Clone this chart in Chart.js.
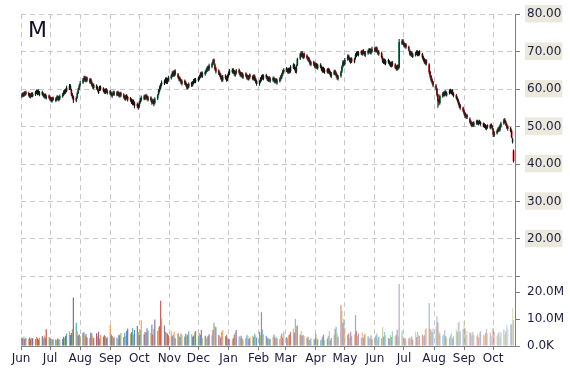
<!DOCTYPE html>
<html>
<head>
<meta charset="utf-8">
<script src="https://cdn.jsdelivr.net/npm/chart.js@4.4.0/dist/chart.umd.min.js"></script>
<style>
  html, body { margin: 0; padding: 0; background: #fff; }
  canvas { display: block; }
</style>
</head>
<body>
<canvas id="chart" width="570" height="370"></canvas>
<script>
// daily candles, one row per trading week, starting Mon 2 Jun 2014
var opens = [
  [58.0,58.9,58.3,58.5,59.3],[59.0,58.7,57.8,58.9,58.1],[58.5,59.6,58.7,59.6,58.4],[59.3,58.8,57.8,58.7,57.5],
  [58.3,57.9,57.7,56.7,57.8],[56.8,57.2,58.1,57.0,57.5],[58.0,58.5,59.7,59.1,59.6],[60.1,60.9,59.7,58.6,58.0],
  [56.9,57.8,59.1,60.0,61.1],[61.8,62.4,63.3,62.2,63.1],[61.9,62.7,61.9,61.3,60.3],[61.0,60.5,59.0,59.8,60.7],
  [60.2,59.8,59.0,60.0,58.9],[59.5,59.1,58.0,58.6,59.3],[58.4,59.3,58.9,58.1,59.0],[58.6,58.2,57.3,58.4,57.9],
  [57.6,57.2,56.0,56.9,56.4],[56.0,55.8,55.4,56.5,57.0],[57.4,58.3,57.6,58.2,57.0],[57.8,57.1,56.4,57.0,56.3],
  [57.5,58.7,59.6,60.2,61.3],[61.5,62.0,62.8,61.8,62.4],[62.9,63.6,64.6,63.6,64.9],[64.0,63.3,63.0,62.5,61.4],
  [62.3,61.8,61.4,60.2,60.7],[61.7,61.0,61.6,62.6,61.9],[62.3,62.8,63.3,64.4,63.4],[64.0,64.5,65.0,66.0,65.3],
  [66.0,66.8,67.9,66.6,65.6],[65.0,64.4,63.9,63.3,62.3],[63.7,63.2,62.6,63.5,64.2],[64.6,65.3,64.8,63.7,64.3],
  [65.2,64.6,63.5,64.3,63.1],[64.2,63.8,63.5,62.6,63.9],[63.4,62.7,63.6,62.8,62.2],[61.3,62.0,62.4,63.7,62.8],
  [63.8,63.3,62.3,63.2,62.1],[62.4,63.0,61.8,62.7,61.6],[62.1,62.7,63.2,64.0,64.6],[65.6,65.3,64.5,65.5,64.8],
  [65.7,66.4,65.6,64.6,66.5],[68.2,69.0,69.8,68.4,69.5],[69.0,68.5,68.3,67.6,66.5],[67.3,66.8,65.9,66.7,65.6],
  [66.6,66.0,64.8,65.7,64.5],[65.3,64.5,65.2,64.6,63.4],[64.0,64.9,64.4,63.8,62.7],[63.5,64.7,66.1,67.4,66.7],
  [68.0,68.9,68.3,67.2,68.2],[67.3,68.3,69.0,69.9,69.1],[70.1,69.3,70.4,69.9,69.0],[69.6,70.0,70.7,69.6,70.1],
  [71.0,70.2,71.1,70.3,69.3],[69.6,68.4,67.1,67.9,66.8],[67.8,67.4,67.0,66.1,67.2],[66.6,66.1,65.3,66.3,65.8],
  [72.1,73.0,72.4,71.3,72.0],[71.3,70.3,69.1,69.8,68.6],[69.0,69.5,70.1,69.1,70.1],[69.4,68.6,68.0,66.9,67.7],
  [66.6,64.6,63.5,62.6,61.9],[61.0,60.1,58.6,57.0,56.3],[58.1,59.1,58.4,59.4,58.3],[58.9,59.8,58.9,59.7,58.9],
  [58.4,57.7,57.1,56.3,55.7],[55.0,54.3,53.6,52.5,53.1],[52.1,51.4,50.1,51.0,50.2],[50.8,51.5,50.6,51.5,51.1],
  [50.8,49.9,50.4,49.4,50.4],[49.6,50.6,50.2,49.3,47.6],[48.2,48.8,49.7,49.1,50.1],[50.9,51.9,51.3,50.6,50.0],
  [49.6,48.9,46.0,43.6]
];
var highs = [
  [59.0,59.2,59.3,59.5,59.6],[59.3,59.0,58.9,59.2,59.2],[59.6,59.9,59.9,60.0,59.5],[59.6,59.1,58.8,58.9,58.5],
  [58.6,58.1,57.9,57.8,58.0],[57.8,58.3,58.4,58.2,58.6],[59.0,59.7,60.0,60.2,60.9],[61.4,61.3,60.1,59.0,58.3],
  [58.0,59.3,60.3,61.3,62.2],[63.0,63.6,63.6,63.3,63.4],[62.9,63.0,62.3,61.6,61.5],[61.3,60.8,60.0,60.9,61.0],
  [60.5,60.1,60.2,60.3,59.9],[59.8,59.4,59.0,59.6,59.6],[59.5,59.6,59.2,59.3,59.3],[58.9,58.4,58.5,58.7,58.2],
  [57.9,57.5,57.2,57.2,56.7],[56.4,56.1,56.8,57.6,58.3],[58.5,58.6,58.8,58.5,58.2],[58.1,57.4,57.5,57.3,57.8],
  [58.7,60.0,60.9,61.6,62.3],[62.6,63.1,63.2,63.0,63.6],[64.0,64.8,65.0,65.1,65.3],[64.3,63.6,63.3,62.8,62.6],
  [62.6,62.1,61.6,61.4,61.8],[62.0,62.2,62.7,62.9,63.0],[63.4,63.8,64.5,64.7,64.7],[65.0,65.5,66.1,66.3,66.8],
  [67.1,68.0,68.2,66.9,66.0],[65.3,64.7,64.2,63.6,63.8],[64.0,63.5,63.9,64.7,65.4],[65.6,65.6,65.1,64.9,65.4],
  [65.5,64.9,64.6,64.6,64.2],[64.5,64.1,63.8,63.8,64.2],[63.7,63.9,63.9,63.1,62.5],[62.4,63.2,63.7,64.0,64.0],
  [64.1,63.6,63.4,63.5,63.2],[63.4,63.3,62.9,63.0,62.8],[63.2,63.8,64.4,65.2,65.6],[65.9,65.6,65.7,65.8,66.4],
  [66.9,66.8,65.9,66.6,68.4],[69.8,70.1,70.2,69.6,69.8],[69.3,68.8,68.6,67.9,67.6],[67.6,67.1,67.1,67.0,66.8],
  [66.9,66.3,66.0,66.0,65.6],[65.6,65.7,65.5,64.9,64.6],[65.2,65.2,64.7,64.1,63.8],[64.9,66.4,67.7,67.7,68.3],
  [69.3,69.2,68.6,68.4,68.5],[68.4,69.6,70.0,70.2,70.2],[70.4,70.4,70.7,70.2,70.2],[70.6,71.0,71.0,70.8,71.3],
  [71.3,71.3,71.4,70.6,70.4],[69.9,68.8,68.2,68.2,67.9],[68.1,67.7,67.3,67.4,67.5],[66.9,66.4,66.6,66.6,73.4],
  [73.3,73.4,72.7,72.3,72.3],[71.6,70.6,70.2,70.1,69.7],[70.0,70.4,70.4,70.2,70.4],[69.7,68.9,68.3,68.0,68.0],
  [66.9,64.9,63.8,62.9,62.2],[61.4,60.4,58.8,57.4,58.6],[59.2,59.4,59.6,59.7,59.4],[60.0,60.1,59.9,60.0,59.2],
  [58.7,58.0,57.4,56.6,56.0],[55.3,54.6,53.9,53.4,53.4],[52.4,51.7,51.2,51.3,51.4],[51.8,51.8,51.6,51.8,51.4],
  [51.1,50.9,50.7,50.3,50.6],[50.7,50.9,50.4,49.6,48.8],[49.2,49.8,50.0,50.6,51.3],[52.1,52.3,51.6,50.9,50.3],
  [49.9,49.2,47.1,43.9]
];
var lows = [
  [57.7,57.9,57.9,58.2,58.3],[58.0,57.6,57.5,57.9,57.8],[58.2,58.7,58.4,58.5,58.1],[58.3,57.8,57.5,57.5,57.2],
  [57.3,56.8,56.5,56.4,56.8],[56.5,56.9,57.0,56.7,57.1],[57.7,58.2,58.6,58.8,59.2],[59.8,59.7,58.2,57.4,56.3],
  [56.5,57.4,58.7,59.7,60.7],[61.4,62.0,62.0,61.8,61.9],[61.5,61.4,60.7,60.1,59.9],[59.9,59.4,58.7,59.5,59.6],
  [59.2,58.8,58.7,59.0,58.6],[58.4,58.1,57.7,58.3,58.2],[58.1,58.2,57.8,57.7,57.9],[57.5,57.0,56.9,57.2,56.7],
  [56.6,56.0,55.7,55.7,54.9],[54.9,54.5,55.0,56.1,56.7],[57.0,57.1,57.2,57.0,56.7],[56.6,55.8,56.0,55.4,55.9],
  [57.1,58.3,59.2,59.9,60.8],[61.1,61.6,61.4,61.4,62.0],[62.6,63.2,63.3,63.3,63.6],[62.8,62.2,61.9,61.3,61.0],
  [61.1,60.7,60.0,59.9,60.3],[60.6,60.7,61.3,61.6,61.6],[62.0,62.4,62.9,63.2,63.0],[63.6,64.1,64.6,64.8,64.9],
  [65.6,66.4,66.5,65.0,64.2],[63.8,63.3,62.6,62.0,62.0],[62.6,62.0,62.2,63.1,63.8],[64.2,64.1,63.6,63.3,63.9],
  [64.0,63.4,63.2,63.0,62.7],[63.2,62.6,62.4,62.3,62.8],[62.4,62.3,62.2,61.6,60.9],[60.9,61.7,62.1,62.6,62.4],
  [62.8,62.2,61.9,62.0,61.7],[62.0,61.8,61.5,61.5,61.2],[61.8,62.3,62.8,63.6,64.2],[64.6,64.2,64.1,64.2,64.4],
  [65.4,65.1,64.3,64.2,66.2],[67.8,68.6,68.4,68.0,68.2],[67.9,67.4,67.1,66.4,66.1],[66.2,65.6,65.5,65.4,65.2],
  [65.6,64.8,64.4,64.4,64.1],[64.2,64.1,64.0,63.3,63.0],[63.7,63.8,63.2,62.5,62.3],[63.1,64.3,65.7,66.2,66.3],
  [67.6,67.8,67.1,66.8,67.0],[66.9,67.9,68.6,68.9,68.7],[69.1,68.9,69.3,68.9,68.6],[69.2,69.6,69.4,69.2,69.7],
  [69.9,69.8,69.8,69.2,68.9],[68.2,67.0,66.7,66.6,66.4],[66.8,66.3,65.9,65.8,66.0],[65.4,65.0,64.9,65.1,65.5],
  [71.8,71.8,71.2,70.9,70.8],[70.1,69.0,68.8,68.6,68.3],[68.7,69.1,68.8,68.8,69.0],[68.1,67.4,66.8,66.5,66.3],
  [64.0,62.9,62.0,61.3,60.5],[59.7,58.0,55.0,55.6,55.9],[57.7,58.0,58.0,58.3,58.0],[58.6,58.8,58.6,58.4,57.8],
  [57.2,56.6,55.8,54.9,54.5],[53.8,53.0,52.3,52.1,52.0],[50.8,50.2,49.8,50.0,49.9],[50.5,50.5,50.3,50.6,50.2],
  [49.8,49.6,49.2,49.0,49.4],[49.3,49.7,49.1,47.2,47.2],[47.9,48.4,48.6,48.7,49.7],[50.5,50.8,50.2,49.4,48.9],
  [48.5,46.9,45.5,40.4]
];
var closes = [
  [58.6,58.2,58.9,59.1,58.7],[58.4,58.0,58.5,58.3,58.8],[59.2,59.0,59.4,58.9,59.1],[58.6,58.2,58.5,57.9,58.1],
  [57.6,57.2,57.0,57.4,57.1],[57.5,57.9,57.3,57.8,58.2],[58.6,59.3,59.0,59.8,60.4],[60.8,60.1,58.6,57.8,57.0],
  [57.6,58.9,59.8,60.9,61.6],[62.6,63.0,62.4,62.9,62.3],[62.5,61.8,61.1,60.6,61.1],[60.3,59.8,59.6,60.5,60.0],
  [59.6,59.2,59.8,59.3,59.5],[58.8,58.5,58.7,59.2,58.6],[59.1,58.6,58.2,58.9,58.3],[57.9,57.4,58.1,57.6,57.2],
  [57.0,56.4,56.8,56.1,55.5],[55.4,55.0,56.4,57.2,57.8],[58.0,57.5,58.3,57.4,57.8],[57.0,56.3,57.1,56.0,57.4],
  [58.3,59.6,60.4,61.2,61.8],[62.1,62.6,61.8,62.7,63.1],[63.6,64.3,63.8,64.6,64.0],[63.2,62.6,62.3,61.8,62.2],
  [61.5,61.1,60.5,61.0,61.4],[61.1,61.8,62.3,62.0,62.6],[63.0,63.4,64.1,63.6,64.3],[64.6,65.1,65.7,65.2,66.3],
  [66.7,67.6,66.9,65.4,64.7],[64.2,63.7,63.0,62.6,63.4],[63.0,62.4,63.5,64.3,65.0],[65.2,64.5,64.0,64.6,65.0],
  [64.4,63.8,64.2,63.4,63.8],[63.6,63.0,62.8,63.4,63.2],[62.8,63.5,62.6,62.0,61.4],[62.0,62.8,63.2,63.0,63.6],
  [63.2,62.6,63.0,62.4,62.8],[63.0,62.2,62.5,61.9,62.4],[62.8,63.4,64.0,64.8,65.2],[65.0,64.6,65.3,64.6,66.0],
  [66.5,65.5,64.8,66.2,68.0],[69.3,69.6,68.8,69.2,68.6],[68.3,67.8,67.5,66.8,67.2],[66.6,66.0,66.8,65.8,66.4],
  [66.0,65.2,65.6,64.8,65.2],[64.6,65.3,64.4,63.8,64.2],[64.8,64.2,63.6,63.0,63.4],[64.5,66.0,67.2,66.6,67.8],
  [68.8,68.2,67.5,68.0,67.4],[68.0,69.2,69.6,69.3,69.8],[69.5,70.0,69.7,69.3,69.8],[70.2,70.6,69.8,70.4,70.8],
  [70.3,70.9,70.2,69.6,70.0],[68.6,67.4,67.8,67.0,67.5],[67.2,66.8,66.3,67.0,66.4],[65.8,65.4,66.2,65.5,72.6],
  [72.8,72.2,71.6,71.9,71.2],[70.5,69.4,69.8,69.0,69.3],[69.6,70.0,69.2,69.8,69.4],[68.5,67.8,67.2,67.6,66.8],
  [64.5,63.4,62.4,61.8,61.0],[60.2,58.5,56.8,56.4,58.2],[58.8,58.4,59.2,58.7,59.0],[59.6,59.2,59.5,58.8,58.2],
  [57.6,57.0,56.2,55.4,55.0],[54.2,53.4,52.8,53.0,52.4],[51.2,50.6,50.8,50.4,51.0],[51.4,50.9,51.2,51.0,50.6],
  [50.2,50.5,49.6,50.0,49.8],[50.3,50.1,49.5,47.8,48.4],[48.8,49.4,49.0,50.2,50.8],[51.6,51.2,50.6,49.8,49.4],
  [48.9,47.2,46.6,40.8]
];
// volume in millions of shares
var volumes = [
  [3.1,2.8,3.4,2.6,3.0],[2.7,3.2,2.5,3.0,2.9],[2.6,3.3,2.9,2.4,3.1],[3.6,2.8,3.9,3.1,6.2],
  [3.3,2.9,2.6,2.2,2.5],[2.4,2.1,2.8,2.5,2.3],[2.6,3.4,2.9,3.8,4.6],[5.5,4.1,4.8,6.2,18.0],
  [8.6,5.4,3.9,4.3,3.6],[4.8,5.1,3.8,4.4,3.2],[3.0,4.9,4.6,3.5,2.9],[4.7,3.6,5.3,2.8,4.1],
  [3.4,4.0,3.7,2.9,3.3],[7.8,4.4,3.6,3.0,3.2],[3.1,2.6,4.2,3.9,4.8],[3.3,4.9,3.7,5.6,6.5],
  [4.5,5.1,6.8,4.2,5.9],[7.4,5.3,4.2,6.0,9.6],[4.4,5.2,4.8,6.6,5.7],[4.8,7.9,4.3,6.4,9.8],
  [5.6,6.9,7.4,16.8,10.2],[7.6,5.3,4.9,4.6,4.0],[5.5,3.6,4.2,5.3,2.9],[4.7,3.8,3.3,4.6,4.1],
  [3.5,4.5,3.6,4.2,5.5],[4.4,3.4,3.9,5.0,5.6],[3.9,4.8,4.2,5.9,3.0],[3.8,2.7,3.4,3.6,4.4],
  [4.0,5.9,8.6,7.4,7.0],[4.1,3.7,3.2,5.3,5.8],[3.6,4.2,3.2,2.5,2.6],[2.4,3.0,4.3,5.1,5.9],
  [3.6,3.2,3.8,2.8,2.2],[2.9,4.2,3.7,2.6,3.1],[3.8,3.3,4.6,3.9,3.2],[5.3,4.1,12.5,6.0,4.4],
  [3.8,3.1,2.9,2.6,2.7],[3.4,4.3,3.0,3.5,2.9],[2.6,3.8,4.5,3.1,5.4],[3.3,2.8,4.0,4.4,5.3],
  [6.4,5.0,10.0,7.3,7.6],[4.2,5.6,3.9,4.1,3.6],[3.0,3.4,2.4,2.2,3.0],[2.7,2.3,4.5,2.9,2.4],
  [2.1,2.5,3.4,4.3,2.2],[2.8,3.7,5.6,2.0,3.0],[4.2,6.3,7.1,4.6,3.4],[15.1,13.0,8.6,10.0,6.8],
  [4.1,4.6,3.0,5.3,3.8],[4.3,11.5,5.6,3.6,4.6],[3.2,5.0,3.0,4.1,4.7],[3.6,2.8,3.2,4.0,2.5],
  [3.3,3.9,4.6,2.6,3.4],[2.9,7.0,3.5,5.2,4.0],[3.1,2.7,4.1,3.3,5.5],[3.6,4.2,6.1,3.4,23.0],
  [5.7,3.5,2.8,3.1,2.4],[2.8,3.2,2.7,3.5,2.4],[5.4,3.3,5.2,4.1,3.7],[4.3,3.6,4.0,6.2,6.8],
  [16.0,6.4,5.8,5.2,6.5],[7.1,11.0,8.8,5.5,4.6],[3.9,4.4,5.8,3.7,2.9],[3.2,4.1,4.8,2.8,3.6],
  [6.0,5.2,8.6,9.2,5.5],[6.3,9.4,6.7,4.0,5.6],[5.1,4.7,3.8,5.3,4.2],[3.6,4.4,3.2,5.0,5.5],
  [4.1,3.9,4.8,6.2,4.6],[4.9,3.5,5.8,6.7,5.2],[3.8,4.6,5.3,3.4,5.1],[6.1,4.3,5.5,7.8,6.4],
  [7.9,8.1,14.0,9.6]
];
// month starts, counted in days from 1 Jun 2014
var monthDays = [0, 30, 61, 92, 122, 153, 183, 214, 245, 273, 304, 334, 365, 395, 426, 457, 487];
var monthLabels = ['Jun','Jul','Aug','Sep','Oct','Nov','Dec','Jan','Feb','Mar','Apr','May','Jun','Jul','Aug','Sep','Oct'];
var priceTicks = [20, 30, 40, 50, 60, 70, 80];
var volumeTicks = [0, 10, 20];

var wicks = [], bodies = [], bodyColors = [], vols = [], volColors = [];
var palette = ['79,129,189', '192,80,77', '155,187,89', '128,100,162', '75,172,198', '247,150,70'];
var total = closes.flat().length;
var n = 0;
for (var w = 0; w < closes.length; w++) {
  for (var d = 0; d < closes[w].length; d++) {
    var day = 1 + 7 * w + d; // Mon 2 Jun 2014 is day 1
    wicks.push({ x: day, y: [lows[w][d], highs[w][d]] });
    bodies.push({ x: day, y: [opens[w][d], closes[w][d]] });
    bodyColors.push(closes[w][d] >= opens[w][d] ? '#00a35a' : '#ff1010');
    vols.push({ x: day, y: volumes[w][d] });
    var a = 1 - 0.62 * Math.pow(n / total, 1.4);
    volColors.push('rgba(' + palette[n % 6] + ',' + a.toFixed(2) + ')');
    n++;
  }
}

var textColor = '#1c1c40';
var labelFont = { family: 'DejaVu Sans', size: 12 };

var titlePlugin = {
  id: 'ticker',
  afterDraw: function(chart) {
    var ctx = chart.ctx;
    ctx.save();
    ctx.font = '22px "DejaVu Sans"';
    ctx.fillStyle = '#10102a';
    ctx.fillText('M', 28, 37);
    ctx.restore();
  }
};

new Chart(document.getElementById('chart').getContext('2d'), {
  type: 'bar',
  data: {
    datasets: [{
      label: 'wick',
      data: wicks,
      backgroundColor: '#111',
      barThickness: 1,
      inflateAmount: 0,
      grouped: false,
      yAxisID: 'y',
      order: 0
    }, {
      label: 'body',
      data: bodies,
      backgroundColor: bodyColors,
      barThickness: 1.8,
      inflateAmount: 0,
      grouped: false,
      yAxisID: 'y',
      order: 1
    }, {
      label: 'volume',
      data: vols,
      backgroundColor: volColors,
      barThickness: 1.2,
      inflateAmount: 0,
      grouped: false,
      yAxisID: 'vol',
      order: 2
    }]
  },
  options: {
    responsive: false,
    animation: false,
    devicePixelRatio: 1,
    layout: { padding: { left: 21, top: 12, right: 0, bottom: 0 } },
    plugins: { legend: { display: false }, tooltip: { enabled: false } },
    scales: {
      x: {
        type: 'linear',
        min: 0,
        max: 509.5,
        offset: false,
        afterBuildTicks: function(axis) {
          axis.ticks = monthDays.map(function(v) { return { value: v }; });
        },
        afterFit: function(axis) { axis.height = 24; },
        ticks: {
          autoSkip: false,
          maxRotation: 0,
          padding: 2,
          color: textColor,
          font: labelFont,
          callback: function(v, i) { return monthLabels[i]; }
        },
        grid: { color: '#c8c8c8', offset: false, tickColor: '#808080', tickLength: 4, tickBorderDash: [] },
        border: { color: '#808080', dash: [5, 4] }
      },
      y: {
        type: 'linear',
        position: 'right',
        stack: 'panes',
        stackWeight: 264,
        min: 10,
        max: 80,
        afterBuildTicks: function(axis) {
          axis.ticks = [10].concat(priceTicks).map(function(v) { return { value: v }; });
        },
        afterFit: function(axis) { axis.width = 55; },
        ticks: {
          color: textColor,
          font: labelFont,
          padding: 7,
          showLabelBackdrop: true,
          backdropColor: function(c) { return priceTicks.indexOf(c.tick.value) < 0 ? 'rgba(0,0,0,0)' : '#ebe8dc'; },
          backdropPadding: { left: 2, right: 1, top: 2, bottom: 1 },
          callback: function(v) { return priceTicks.indexOf(v) < 0 ? '' : v.toFixed(2); }
        },
        grid: { color: '#c8c8c8', tickColor: '#808080', tickLength: 5, tickBorderDash: [] },
        border: { color: '#808080', dash: [5, 4] }
      },
      vol: {
        type: 'linear',
        position: 'right',
        stack: 'panes',
        stackWeight: 70,
        min: 0,
        max: 25.8,
        afterBuildTicks: function(axis) {
          axis.ticks = volumeTicks.map(function(v) { return { value: v }; });
        },
        afterFit: function(axis) { axis.width = 55; },
        ticks: {
          color: textColor,
          font: labelFont,
          padding: 7,
          callback: function(v) { return v === 0 ? '0.0K' : v.toFixed(1) + 'M'; }
        },
        grid: { drawOnChartArea: false, tickColor: '#808080', tickLength: 5, tickBorderDash: [] },
        border: { color: '#808080' }
      }
    }
  },
  plugins: [titlePlugin]
});
</script>
</body>
</html>
